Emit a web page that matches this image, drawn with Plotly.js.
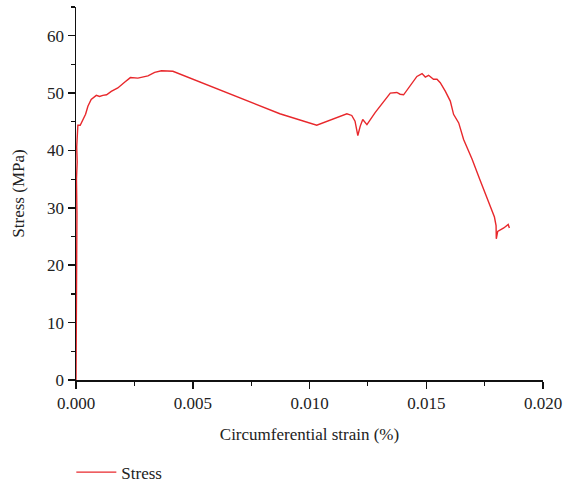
<!DOCTYPE html>
<html><head><meta charset="utf-8">
<script src="https://cdn.plot.ly/plotly-3.0.1.min.js"></script>
<style>html,body{margin:0;padding:0;background:#fff}#c{width:571px;height:498px}</style>
</head><body><div id="c"></div>
<script>
const seriesName = "Stress";
const strain = [0, 0.00001, 0.00003, 0.00001, 0.00004, 0.00002, 0.00005, 0.00003, 0.00008,
  0.00018, 0.00029, 0.00041, 0.00051, 0.00065, 0.00087, 0.00101, 0.00115, 0.00131, 0.00151,
  0.00179, 0.00208, 0.00233, 0.00265, 0.00308, 0.00337, 0.00366, 0.00415,
  0.00788, 0.00873, 0.01031, 0.01160, 0.01181, 0.01195, 0.01207, 0.01217, 0.01228, 0.01246,
  0.01281, 0.01303, 0.01324, 0.01346, 0.01374, 0.01388, 0.01403, 0.01431, 0.01460, 0.01482,
  0.01496, 0.01510, 0.01531, 0.01546, 0.01560, 0.01582, 0.01603, 0.01617, 0.01639, 0.01660,
  0.01696, 0.01729, 0.01775, 0.01792, 0.01799, 0.01800, 0.01806, 0.01832, 0.01851, 0.01856];
const stress = [0, 8, 15, 22, 29, 35, 38, 40.6, 44.4,
  44.4, 45.4, 46.3, 47.7, 48.9, 49.6, 49.4, 49.6, 49.7, 50.3,
  50.9, 51.9, 52.7, 52.6, 53.0, 53.6, 53.9, 53.8,
  47.7, 46.4, 44.4, 46.4, 46.1, 45.1, 42.6, 44.2, 45.4, 44.5,
  46.6, 47.7, 48.9, 50.0, 50.1, 49.8, 49.7, 51.3, 52.9, 53.4,
  52.8, 53.1, 52.4, 52.4, 51.8, 50.3, 48.6, 46.3, 44.8, 41.9,
  38.5, 35.0, 30.4, 28.4, 26.9, 24.6, 25.9, 26.5, 27.1, 26.5];
const xTicks = [0, 0.005, 0.010, 0.015, 0.020];
const xTickText = ["0.000", "0.005", "0.010", "0.015", "0.020"];
const yTicks = [0, 10, 20, 30, 40, 50, 60];

const font = {family: "Liberation Serif, DejaVu Serif, serif", size: 17, color: "#222"};
const trace = {x: strain, y: stress, type: "scatter", mode: "lines", name: seriesName,
  line: {color: "#e8282c", width: 1.4}};
const layout = {
  width: 571, height: 498,
  margin: {l: 76, r: 28, t: 7, b: 116},
  paper_bgcolor: "#fff", plot_bgcolor: "#fff",
  font: font,
  showlegend: true,
  legend: {orientation: "h", x: -0.01, xanchor: "left", y: -0.2, yanchor: "top", font: font,
    itemwidth: 40, bgcolor: "rgba(0,0,0,0)"},
  xaxis: {range: [0, 0.02], tickvals: xTicks, ticktext: xTickText, showgrid: false, zeroline: false,
    showline: true, linecolor: "#111", linewidth: 1.5, ticks: "outside", ticklen: 7, tickwidth: 1.5,
    tickcolor: "#111", tickfont: font,
    minor: {dtick: 0.0025, ticks: "outside", ticklen: 4, tickwidth: 1.2, tickcolor: "#111", showgrid: false},
    title: {text: "Circumferential strain (%)", font: font, standoff: 16}},
  yaxis: {range: [0, 65], tickvals: yTicks, showgrid: false, zeroline: false,
    showline: true, linecolor: "#111", linewidth: 1.5, ticks: "outside", ticklen: 7, tickwidth: 1.5,
    tickcolor: "#111", tickfont: font,
    minor: {dtick: 5, ticks: "outside", ticklen: 4, tickwidth: 1.2, tickcolor: "#111", showgrid: false},
    title: {text: "Stress (MPa)", font: font, standoff: 18}}
};
Plotly.newPlot("c", [trace], layout, {displayModeBar: false, staticPlot: true});
</script></body></html>
